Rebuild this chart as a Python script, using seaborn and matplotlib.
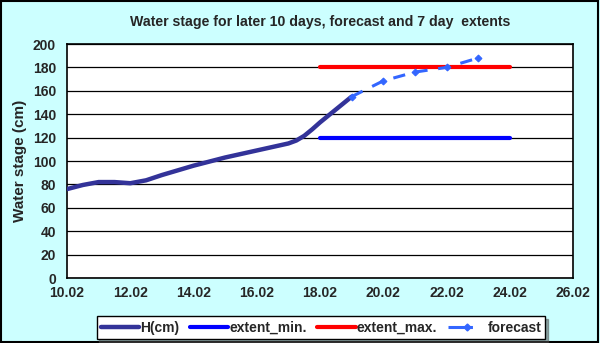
import numpy as np
import pandas as pd
import matplotlib
matplotlib.use("Agg")
import matplotlib.pyplot as plt
import seaborn as sns
from matplotlib.lines import Line2D

# day of February (x)
h_days = [10.0, 10.5, 11.0, 11.5, 12.0, 12.5, 13.0, 13.5, 14.0, 14.5, 15.0,
          15.5, 16.0, 16.5, 17.0, 17.25, 17.5, 17.75, 18.0, 18.5, 19.0]
h_cm = [76, 79.5, 82, 82, 81, 83.5, 88, 92, 96, 99.5, 103,
        106, 109, 112, 115, 117.5, 121.5, 127, 133, 144, 155]

fc_days = [19, 20, 21, 22, 23]
fc_cm = [155, 168.5, 176, 180, 188]

ext_days = [18, 24]
ext_min = [120, 120]
ext_max = [180, 180]

tick_days = [10, 12, 14, 16, 18, 20, 22, 24, 26]
tick_labels = ["10.02", "12.02", "14.02", "16.02", "18.02", "20.02", "22.02", "24.02", "26.02"]

sns.set_style("white")
plt.rcParams["font.family"] = ["Liberation Sans", "DejaVu Sans"]
plt.rcParams["font.weight"] = "bold"

fig = plt.figure(figsize=(6, 3.43), dpi=100, facecolor="#CCFFFF")
fig.patches.append(plt.Rectangle((0.002, 0.003), 0.995, 0.994, transform=fig.transFigure,
                                 fill=False, edgecolor="black", lw=1.5))
ax = fig.add_axes([0.1117, 0.1895, 0.8433, 0.6822])
ax.set_facecolor("white")

df_h = pd.DataFrame({"day": h_days, "cm": h_cm})
df_fc = pd.DataFrame({"day": fc_days, "cm": fc_cm})
df_min = pd.DataFrame({"day": ext_days, "cm": ext_min})
df_max = pd.DataFrame({"day": ext_days, "cm": ext_max})

sns.lineplot(data=df_min, x="day", y="cm", ax=ax, color="#0000FF", lw=3, zorder=3)
sns.lineplot(data=df_max, x="day", y="cm", ax=ax, color="#FF0000", lw=3, zorder=3)
sns.lineplot(data=df_h, x="day", y="cm", ax=ax, color="#333399", lw=3.2, zorder=4)
sns.lineplot(data=df_fc, x="day", y="cm", ax=ax, color="#3366FF", lw=2.2, zorder=5,
             marker="D", markersize=3.5, markeredgecolor="#3366FF", dashes=(4, 3.5))

ax.set_xlim(10, 26)
ax.set_ylim(0, 200)
ax.set_xticks(tick_days)
ax.set_xticklabels(tick_labels)
ax.set_xticks(np.arange(10, 26.01, 0.5), minor=True)
ax.set_yticks(np.arange(0, 201, 20))
ax.yaxis.grid(True, color="black", lw=0.9)
ax.tick_params(axis="both", which="both", direction="in", labelsize=10, length=4, width=1,
               color="black", pad=3)
ax.tick_params(axis="x", which="major", direction="inout", length=6)
ax.tick_params(axis="x", which="minor", direction="inout", length=6)
ax.tick_params(axis="y", direction="out", length=5)
for s in ax.spines.values():
    s.set_color("black")
    s.set_linewidth(1.2)

ax.set_xlabel("")
ax.set_ylabel("Water stage (cm)", fontsize=11, fontweight="bold", labelpad=4)
fig.text(0.534, 0.936, "Water stage for later 10 days, forecast and 7 day  extents",
         ha="center", va="center", fontsize=10.2, fontweight="bold")

handles = [
    Line2D([], [], color="#333399", lw=3.2),
    Line2D([], [], color="#0000FF", lw=3),
    Line2D([], [], color="#FF0000", lw=3),
    Line2D([], [], color="#3366FF", lw=2.2, marker="D", markersize=3.5,
           linestyle=(0, (8, 20))),
]
labels = ["H(cm)", "extent_min.", "extent_max.", "forecast"]
leg = fig.legend(handles, labels, loc="center", bbox_to_anchor=(0.535, 0.045), ncol=4,
                 frameon=True, fancybox=False, shadow=True, fontsize=10,
                 handlelength=2.75, handletextpad=0.1, columnspacing=0.75,
                 borderpad=0.3, borderaxespad=0)
leg.get_frame().set_edgecolor("black")
leg.get_frame().set_linewidth(1)

fig.savefig("out.png", dpi=100, facecolor=fig.get_facecolor())
